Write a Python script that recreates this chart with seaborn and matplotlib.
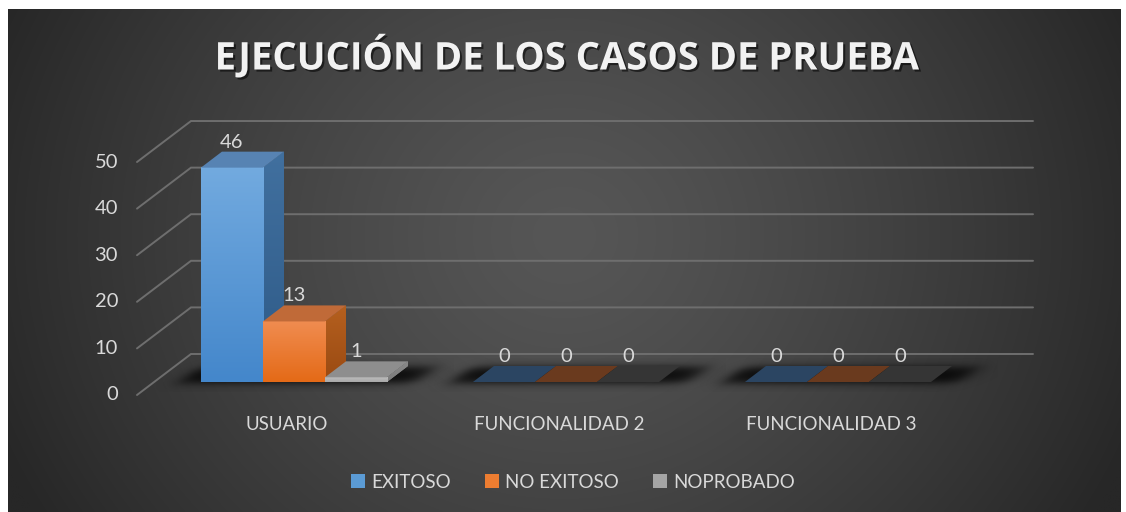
import numpy as np
import pandas as pd
import matplotlib
matplotlib.use("Agg")
import matplotlib.pyplot as plt
import seaborn as sns
from matplotlib.patches import Polygon, Patch
import matplotlib.patheffects as pe

# ---------------- data ----------------
categorias = ["USUARIO", "FUNCIONALIDAD 2", "FUNCIONALIDAD 3"]
series = ["EXITOSO", "NO EXITOSO", "NOPROBADO"]
exitoso = [46, 0, 0]
no_exitoso = [13, 0, 0]
noprobado = [1, 0, 0]
yticks = [0, 10, 20, 30, 40, 50]
titulo = "EJECUCIÓN DE LOS CASOS DE PRUEBA"

df = pd.DataFrame({
    "categoria": categorias * 3,
    "estado": np.repeat(series, len(categorias)),
    "valor": exitoso + no_exitoso + noprobado,
})

# ---------------- style ----------------
colores = {"EXITOSO": "#5B9BD5", "NO EXITOSO": "#ED7D31", "NOPROBADO": "#A5A5A5"}
front_grad = {"EXITOSO": ("#72AADF", "#4487CB"),
              "NO EXITOSO": ("#F08C50", "#E46A17"),
              "NOPROBADO": ("#BDBDBD", "#A8A8A8")}
side_col = {"EXITOSO": ("#41709F", "#2E5A87"),
            "NO EXITOSO": ("#B5601F", "#9A4A12"),
            "NOPROBADO": ("#8A8A8A", "#7A7A7A")}
top_col = {"EXITOSO": "#5783B3", "NO EXITOSO": "#C06A38", "NOPROBADO": "#8E8E8E"}
zero_col = {"EXITOSO": "#2B4562", "NO EXITOSO": "#6A3A1E", "NOPROBADO": "#353535"}
txt_col = "#D9D9D9"
grid_col = "#6E6E6E"

W, H, DPI = 1126, 512, 100
sns.set_theme(style="white")
plt.rcParams["font.family"] = ["Lato", "DejaVu Sans"]

fig = plt.figure(figsize=(W / DPI, H / DPI), dpi=DPI, facecolor="white")

# background radial gradient
bg = fig.add_axes([8 / W, 0, (1121 - 8) / W, (512 - 9) / H])
yy, xx = np.mgrid[0:1:256j, 0:1:512j]
r = np.sqrt(((xx - 0.5) / 0.55) ** 2 + ((yy - 0.45) / 1.1) ** 2)
t = np.clip(r, 0, 1) ** 1.3
c_in = np.array([0x56, 0x56, 0x56]) / 255
c_out = np.array([0x27, 0x27, 0x27]) / 255
img = (1 - t)[..., None] * c_in + t[..., None] * c_out
bg.imshow(img, aspect="auto", extent=[0, 1, 0, 1], interpolation="bilinear")
bg.set_axis_off()

# main axes: front plane of bars
axL, axR, axT, axB = 137, 1033, 100, 395
ax = fig.add_axes([axL / W, (H - axB) / H, (axR - axL) / W, (axB - axT) / H])
ax.patch.set_alpha(0)

sns.barplot(data=df, x="categoria", y="valor", hue="estado", order=categorias,
            hue_order=series, palette=colores, width=0.684, legend=False,
            ax=ax, saturation=1, errorbar=None)
bars = list(ax.patches)

XL = (-0.577, 2.717)
YL = (-2.79, 60.52)
ax.set_xlim(*XL)
ax.set_ylim(*YL)
ax.set_autoscale_on(False)
ax.set_axis_off()

ppx = (axR - axL) / (XL[1] - XL[0])
ppy = (axB - axT) / (YL[1] - YL[0])
ddx, ddy = 21 / ppx, 16 / ppy           # bar depth
fdy = 13 / ppy                            # bar plane -> front
bdx, bdy = 54 / ppx, 41 / ppy             # front -> back

# walls / grid
for v in yticks:
    y_front = v - fdy
    y_back = y_front + bdy
    ax.plot([XL[0], XL[0] + bdx, XL[1]], [y_front, y_back, y_back],
            color=grid_col, lw=1.4, zorder=1, clip_on=False, solid_joinstyle="miter")
    ax.text(XL[0] - 19 / ppx, y_front, str(v), ha="right", va="center",
            fontsize=14.5, color=txt_col, zorder=5)

def vgrad(c1, c2, n=64):
    a = np.array(matplotlib.colors.to_rgb(c1))
    b = np.array(matplotlib.colors.to_rgb(c2))
    tt = np.linspace(0, 1, n)[:, None]
    return ((1 - tt) * a + tt * b)[:, None, :]

# shadows under each category group
n_cat = len(categorias)
for ci in range(n_cat):
    grp = [bars[si * n_cat + ci] for si in range(len(series))]
    gx0 = min(b.get_x() for b in grp)
    gx1 = max(b.get_x() + b.get_width() for b in grp)
    ex0, ex1 = gx0 - 45 / ppx, gx1 + ddx + 45 / ppx
    ey0, ey1 = -10 / ppy, ddy + 8 / ppy
    nx, ny = 200, 60
    ux = np.linspace(ex0, ex1, nx) * ppx
    wy = np.linspace(ey1, ey0, ny) * ppy
    U, Wy = np.meshgrid(ux, wy)
    Us = U - Wy * (21 / 16) - gx0 * ppx
    width_px = (gx1 - gx0) * ppx
    ax_a = 1 / (1 + np.exp(-(Us + 22) / 5)) * 1 / (1 + np.exp((Us - width_px - 28) / 6))
    ay_a = 1 / (1 + np.exp(-(Wy + 1) / 2.5)) * 1 / (1 + np.exp((Wy - 15) / 2.5))
    alpha = 0.85 * ax_a * ay_a
    rgba = np.zeros((ny, nx, 4))
    rgba[..., 3] = alpha
    ax.imshow(rgba, extent=[ex0, ex1, ey0, ey1], aspect="auto", zorder=2,
              interpolation="bilinear")

# 3D bars
for si, s in enumerate(series):
    for ci in range(n_cat):
        b = bars[si * n_cat + ci]
        x0, w, h = b.get_x(), b.get_width(), b.get_height()
        x1 = x0 + w
        b.set_zorder(3)
        if h > 0:
            b.set_edgecolor("none")
            ax.imshow(vgrad(*front_grad[s]), extent=[x0, x1, 0, h], aspect="auto",
                      zorder=3.1, clip_path=b, interpolation="bilinear")
            side = Polygon([(x1, 0), (x1, h), (x1 + ddx, h + ddy), (x1 + ddx, ddy)],
                           closed=True, facecolor=side_col[s][0], edgecolor="none",
                           zorder=3)
            ax.add_patch(side)
            ax.imshow(vgrad(*side_col[s]), extent=[x1, x1 + ddx, 0, h + ddy],
                      aspect="auto", zorder=3.05, clip_path=side,
                      interpolation="bilinear")
            ax.add_patch(Polygon([(x0, h), (x1, h), (x1 + ddx, h + ddy), (x0 + ddx, h + ddy)],
                                 closed=True, facecolor=top_col[s], edgecolor="none",
                                 zorder=3.2))
        else:
            b.set_visible(False)
            ax.add_patch(Polygon([(x0, 0), (x1, 0), (x1 + ddx, ddy), (x0 + ddx, ddy)],
                                 closed=True, facecolor=zero_col[s], edgecolor="none",
                                 zorder=3.2))
        ax.text(x0 + w / 2, h + ddy + 1 / ppy, str(int(h)), ha="center", va="bottom",
                fontsize=14.5, color=txt_col, zorder=6)

# category labels
for ci, c in enumerate(categorias):
    ax.text(ci - 7 / ppx, YL[0] - 29 / ppy, c, ha="center", va="center",
            fontsize=13.5, color=txt_col, zorder=6, clip_on=False)

# title
fig.text(567 / W, 1 - 57 / H, titulo, ha="center", va="center", fontsize=27.5,
         fontweight="bold", color="#F2F2F2", family=["Open Sans", "DejaVu Sans"],
         path_effects=[pe.SimplePatchShadow(offset=(1.5, -1.5), shadow_rgbFace="black",
                                            alpha=0.55), pe.Normal()])

# legend
handles = [Patch(facecolor=colores[s], edgecolor="none", label=s) for s in series]
leg = fig.legend(handles=handles, loc="center", ncol=3, frameon=False,
                 bbox_to_anchor=(573 / W, 1 - 482 / H), fontsize=13.5,
                 handlelength=0.75, handleheight=0.75, handletextpad=0.35,
                 columnspacing=1.8)
for tx in leg.get_texts():
    tx.set_color(txt_col)

fig.savefig("out.png", dpi=DPI, facecolor="white")
